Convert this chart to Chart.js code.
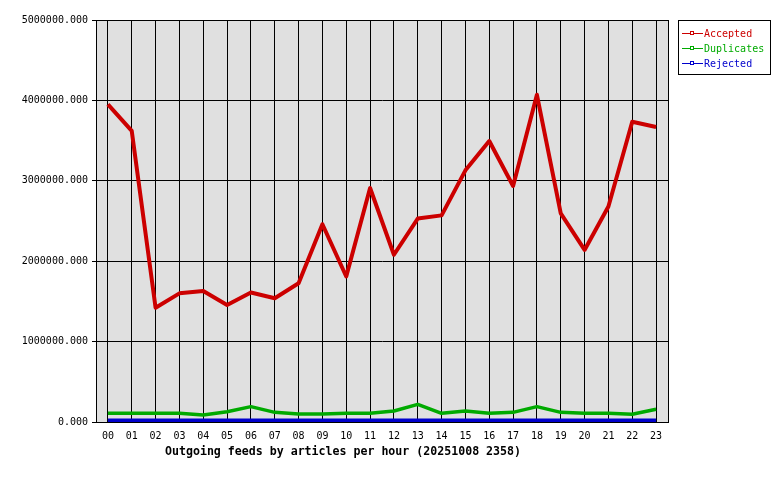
<!DOCTYPE html>
<html>
<head>
<meta charset="utf-8">
<script src="https://cdn.jsdelivr.net/npm/chart.js@4"></script>
<style>
  body { margin: 0; background: #ffffff; }
  #wrap { width: 780px; height: 480px; }
</style>
</head>
<body>
<div id="wrap"><canvas id="feeds" width="780" height="480"></canvas></div>
<script>
// Hours of the day (x categories)
const hours = ['00','01','02','03','04','05','06','07','08','09','10','11',
               '12','13','14','15','16','17','18','19','20','21','22','23'];

// Articles per hour
const accepted = [3950000, 3620000, 1420000, 1600000, 1630000, 1455000, 1610000, 1540000,
                  1725000, 2460000, 1810000, 2910000, 2080000, 2530000, 2570000, 3130000,
                  3495000, 2935000, 4070000, 2595000, 2140000, 2680000, 3735000, 3670000];
const duplicates = [108000, 108000, 108000, 108000, 87000, 128000, 191000, 120000,
                    100000, 100000, 108000, 108000, 137000, 220000, 108000, 137000,
                    108000, 120000, 191000, 120000, 108000, 108000, 96000, 158000];
const rejected = [0, 0, 0, 0, 0, 0, 0, 0, 0, 0, 0, 0,
                  0, 0, 0, 0, 0, 0, 0, 0, 0, 0, 0, 0];

const yTicks = [0, 1000000, 2000000, 3000000, 4000000, 5000000];

const chartTitle = 'Outgoing feeds by articles per hour (20251008 2358)';

const MONO = '"DejaVu Sans Mono", "Liberation Mono", monospace';

// Gray plot background, white page
const plotBackground = {
    id: 'plotBackground',
    beforeDraw(chart) {
        const { ctx, chartArea: a } = chart;
        ctx.save();
        ctx.fillStyle = '#ffffff';
        ctx.fillRect(0, 0, chart.width, chart.height);
        ctx.fillStyle = '#e0e0e0';
        ctx.fillRect(a.left, a.top, a.right - a.left, a.bottom - a.top);
        ctx.restore();
    }
};

// Frame around the plot, boxed legend and bottom caption
const frameAndLegend = {
    id: 'frameAndLegend',
    afterDraw(chart) {
        const { ctx, chartArea: a } = chart;
        ctx.save();
        ctx.strokeStyle = '#000000';
        ctx.lineWidth = 1;
        ctx.strokeRect(Math.round(a.left) + 0.5, Math.round(a.top) + 0.5,
                       Math.round(a.right - a.left), Math.round(a.bottom - a.top));

        // legend box
        ctx.strokeRect(678.5, 20.5, 92, 54);
        ctx.font = '10px ' + MONO;
        ctx.textBaseline = 'middle';
        ctx.textAlign = 'left';
        chart.data.datasets.forEach((ds, i) => {
            const y = 33 + i * 15;
            ctx.strokeStyle = ds.borderColor;
            ctx.lineWidth = 1;
            ctx.beginPath();
            ctx.moveTo(682, y + 0.5);
            ctx.lineTo(703, y + 0.5);
            ctx.stroke();
            ctx.fillStyle = '#ffffff';
            ctx.fillRect(690, y - 1, 4, 3);
            ctx.strokeRect(690.5, y - 1.5, 3, 3);
            ctx.fillStyle = ds.borderColor;
            ctx.fillText(ds.label, 704, y + 1);
        });

        // caption under the axis
        ctx.fillStyle = '#000000';
        ctx.font = 'bold 11.6px ' + MONO;
        ctx.textAlign = 'center';
        ctx.fillText(chartTitle, 343, 452);
        ctx.restore();
    }
};

new Chart(document.getElementById('feeds'), {
    type: 'line',
    data: {
        labels: hours,
        datasets: [
            { label: 'Accepted', data: accepted, borderColor: '#cc0000', borderWidth: 4 },
            { label: 'Duplicates', data: duplicates, borderColor: '#00aa00', borderWidth: 3.5 },
            { label: 'Rejected', data: rejected, borderColor: '#0000cc', borderWidth: 7, clip: 0 }
        ]
    },
    options: {
        responsive: false,
        animation: false,
        events: [],
        layout: { padding: { top: 20, right: 112, bottom: 0, left: 0 } },
        elements: {
            line: { tension: 0, fill: false, borderJoinStyle: 'round' },
            point: { radius: 0 }
        },
        plugins: {
            legend: { display: false },
            tooltip: { enabled: false }
        },
        scales: {
            x: {
                type: 'category',
                offset: true,
                afterFit(scale) { scale.height = 58; },
                grid: { offset: false, color: '#000000', lineWidth: 1, drawTicks: false },
                border: { display: true, color: '#000000' },
                ticks: {
                    color: '#000000',
                    font: { family: MONO, size: 10 },
                    padding: 8,
                    maxRotation: 0,
                    autoSkip: false
                }
            },
            y: {
                min: 0,
                max: 5000000,
                afterFit(scale) { scale.width = 96; },
                afterBuildTicks(scale) { scale.ticks = yTicks.map(v => ({ value: v })); },
                grid: { color: '#000000', lineWidth: 1, drawTicks: true, tickLength: 4 },
                border: { display: true, color: '#000000' },
                ticks: {
                    color: '#000000',
                    font: { family: MONO, size: 10 },
                    padding: 4,
                    callback: v => Number(v).toFixed(3)
                }
            }
        }
    },
    plugins: [plotBackground, frameAndLegend]
});
</script>
</body>
</html>
